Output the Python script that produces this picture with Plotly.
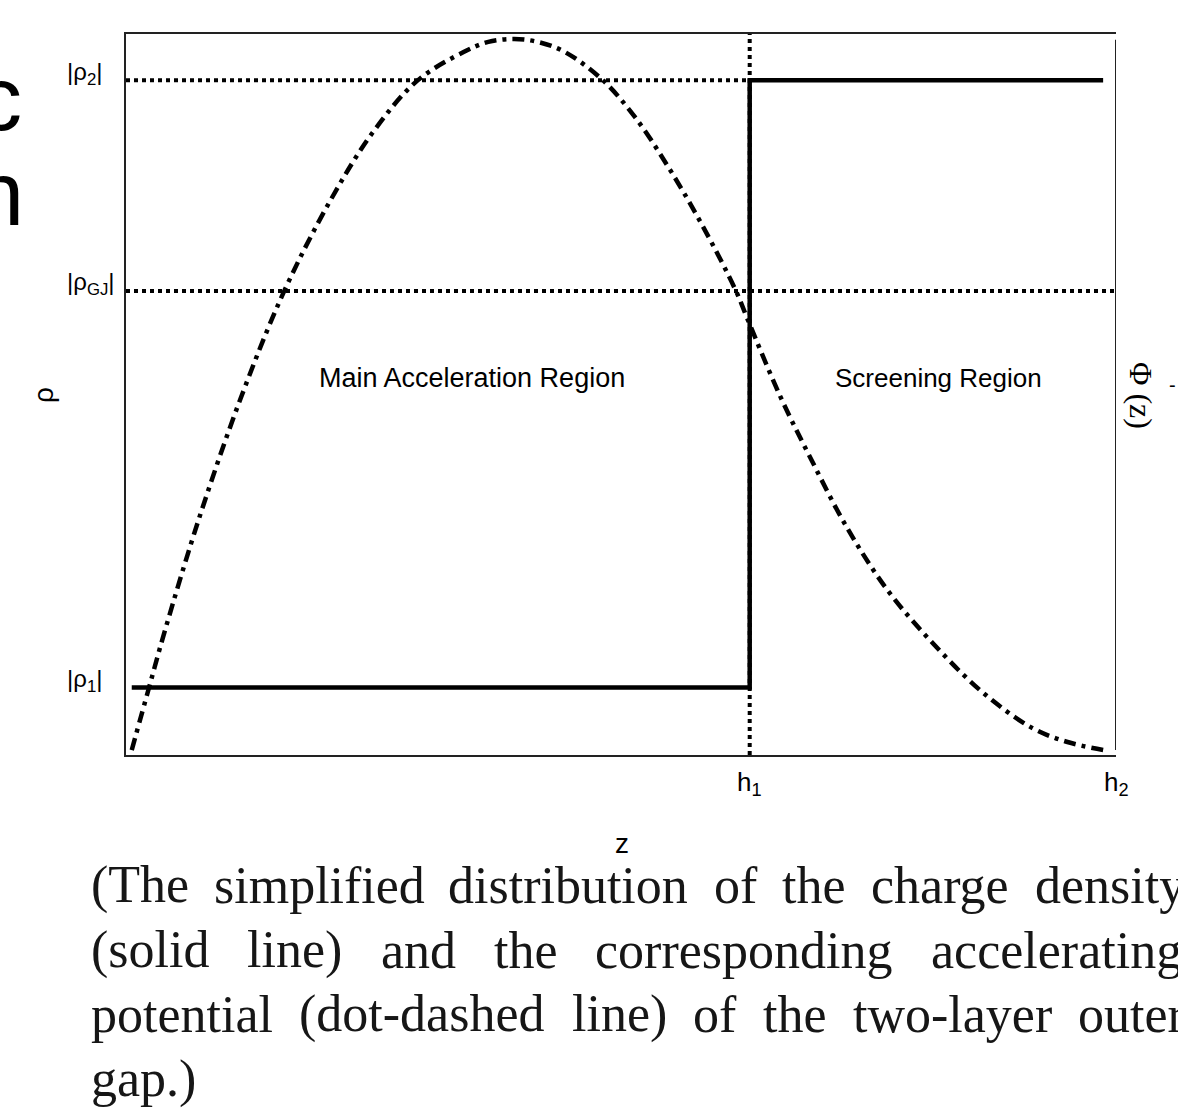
import plotly.graph_objects as go

# ---------------- data ----------------
H1 = 0.630          # z position of h1
H2 = 1.0            # z position of h2
RHO1 = 0.0936
RHO_GJ = 0.6436
RHO2 = 0.936

# charge density (solid line)
rho_z = [0.0058, H1, H1, 0.987]
rho_v = [RHO1, RHO1, RHO2, RHO2]

phi_z = [0.0058, 0.0232, 0.0394, 0.0747, 0.117, 0.160, 0.206, 0.249, 0.294,
         0.341, 0.366, 0.392, 0.416, 0.442, 0.480, 0.514, 0.548, 0.582, 0.616,
         0.628, 0.661, 0.691, 0.728, 0.769, 0.815, 0.866, 0.916, 0.951, 0.987]
phi_v = [0.0069, 0.0933, 0.173, 0.332, 0.499, 0.644, 0.768, 0.863, 0.935,
         0.975, 0.989, 0.993, 0.989, 0.976, 0.938, 0.885, 0.815, 0.735, 0.644,
         0.604, 0.497, 0.413, 0.316, 0.229, 0.155, 0.086, 0.037, 0.018, 0.007]

rho_tick_vals = [RHO2, RHO_GJ, RHO1]
rho_tick_text = ["|ρ<sub>2</sub>|", "|ρ<sub>GJ</sub>|", "|ρ<sub>1</sub>|"]
z_tick_vals = [H1, H2]
z_tick_text = ["h<sub>1</sub>", "h<sub>2</sub>"]

caption_lines = [
    [("(The", 89), ("simplified", 212), ("distribution", 446), ("of", 712),
     ("the", 780), ("charge", 869), ("density", 1033)],
    [("(solid", 89), ("line)", 245), ("and", 379), ("the", 492),
     ("corresponding", 593), ("accelerating", 929)],
    [("potential", 89), ("(dot-dashed", 297), ("line)", 570), ("of", 691),
     ("the", 761), ("two-layer", 851), ("outer", 1076)],
    [("gap.)", 89)],
]
caption_baselines = [903, 968, 1032, 1097]

# ---------------- layout geometry (page pixels) ----------------
W, H = 1178, 1109
PL, PR, PT, PB = 126, 1116, 34, 755     # plot area in page pixels
L, T = PL, PT
PW, PH = PR - PL, PB - PT
R = W - L - PW
B = H - T - PH


def px_x(px):
    return (px - PL) / PW


def px_y(py):
    return (PB - py) / PH


SANS = "Liberation Sans, Arial, sans-serif"
SERIF = "Liberation Serif, Times New Roman, serif"
BLACK = "#000000"
DOT = dict(color=BLACK, width=4, dash="4px,4px")

fig = go.Figure()

# dotted guide lines
fig.add_trace(go.Scatter(x=[0, H1], y=[RHO2, RHO2], mode="lines", line=DOT,
                         hoverinfo="skip", showlegend=False))
fig.add_trace(go.Scatter(x=[0, H2], y=[RHO_GJ, RHO_GJ], mode="lines", line=DOT,
                         hoverinfo="skip", showlegend=False))
fig.add_trace(go.Scatter(x=[H1, H1], y=[0, 1], mode="lines", line=DOT,
                         hoverinfo="skip", showlegend=False))

# charge density
fig.add_trace(go.Scatter(x=rho_z, y=rho_v, mode="lines",
                         line=dict(color=BLACK, width=4.5),
                         showlegend=False))

# potential
fig.add_trace(go.Scatter(x=phi_z, y=phi_v, mode="lines",
                         line=dict(color=BLACK, width=4.5, shape="spline",
                                   smoothing=1.0, dash="12px,6px,4px,6px"),
                         showlegend=False))

# right-hand Φ axis line
fig.add_shape(type="line", xref="x", yref="y", x0=H2, x1=H2, y0=0.007, y1=0.992,
              line=dict(color="#222222", width=2))

ann = []


def add(x, y, text, size, family=SANS, xanchor="center", yanchor="middle",
        xref="paper", yref="paper", **kw):
    ann.append(dict(x=x, y=y, xref=xref, yref=yref, text=text, showarrow=False,
                    xanchor=xanchor, yanchor=yanchor,
                    font=dict(family=family, size=size, color=kw.pop("color", BLACK)),
                    **kw))


# rho tick labels
for v, t in zip(rho_tick_vals, rho_tick_text):
    add(px_x(65), v, t, 24, xanchor="left", yref="y", yshift=7)
# z tick labels
for v, t in zip(z_tick_vals, z_tick_text):
    add(v, px_y(783), t, 26, xref="x")
# region labels
add(px_x(472), px_y(378), "Main Acceleration Region", 27)
add(px_x(938), px_y(378), "Screening Region", 26)
# axis titles
add(px_x(622), px_y(843), "z", 28)
add(px_x(43), px_y(395), "ρ", 28, textangle=-90)
add(px_x(1141), px_y(395), "Φ (z)", 32, family=SERIF, textangle=90)
add(px_x(1172), px_y(385), "-", 20)
# cut-off letters from the neighbouring column
add(px_x(24), px_y(99), "c", 90, xanchor="right")
add(px_x(26), px_y(194), "n", 90, xanchor="right")
# caption, justified by word positions
CAP = 52
for words, base in zip(caption_lines, caption_baselines):
    for w, xpx in words:
        add(px_x(xpx), px_y(base - 0.34 * CAP), w, CAP, family=SERIF,
            xanchor="left", color="#161616")

fig.update_layout(
    width=W, height=H,
    margin=dict(l=L, r=R, t=T, b=B, pad=0),
    paper_bgcolor="white", plot_bgcolor="white",
    annotations=ann,
    xaxis=dict(range=[0, 1], showgrid=False, zeroline=False, showticklabels=False,
               ticks="", showline=True, linecolor="#222222", linewidth=2,
               mirror=True, fixedrange=True),
    yaxis=dict(range=[0, 1], showgrid=False, zeroline=False, showticklabels=False,
               ticks="", showline=True, linecolor="#222222", linewidth=2,
               fixedrange=True),
)

fig.write_html("out.html",
               config={"displayModeBar": False},
               post_script="document.body.style.margin='0';"
                           "document.body.style.overflow='hidden';")
